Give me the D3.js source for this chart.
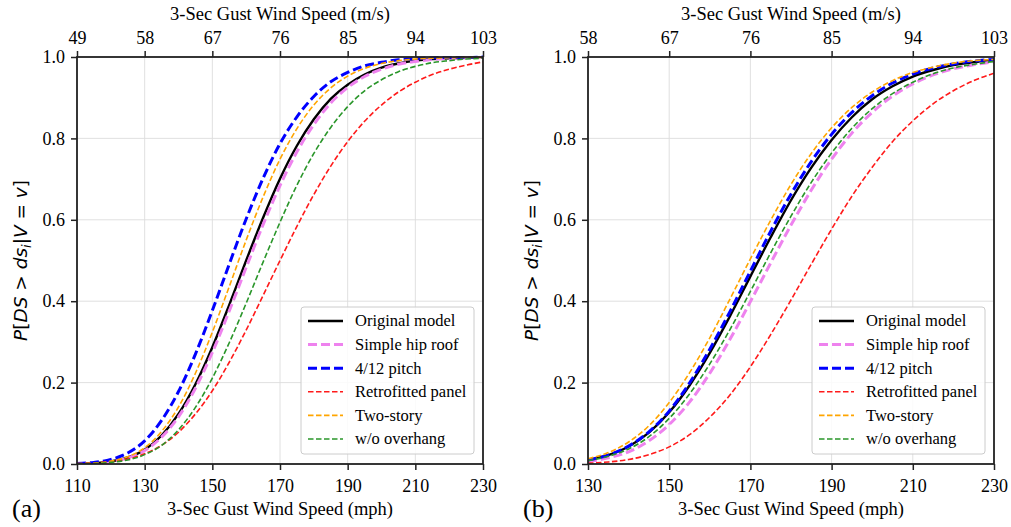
<!DOCTYPE html>
<html>
<head>
<meta charset="utf-8">
<script src="https://cdn.jsdelivr.net/npm/d3@7"></script>
<style>
  body { margin: 0; background: #fff; }
  svg { display: block; }
  .tick text { font-family: "Liberation Serif", "Times New Roman", serif; font-size: 18px; fill: #000; }
</style>
</head>
<body>
<svg id="chart" width="1011" height="527"></svg>
<script>
// wind speeds (mph) where curves were read
const mphA = [110,115,120,125,130,135,140,145,150,155,160,165,170,175,180,185,190,195,200,205,210,215,220,225,230]
const mphB = [130,135,140,145,150,155,160,165,170,175,180,185,190,195,200,205,210,215,220,225,230]

// tick labels
const ticksA = [110,130,150,170,190,210,230]
const msA = [49,58,67,76,85,94,103]
const ticksB = [130,150,170,190,210,230]
const msB = [58,67,76,85,94,103]
const yTicks = [0,0.2,0.4,0.6,0.8,1.0]

// panel (a) fragility values
const origA  = [0.001,0.002,0.006,0.016,0.035,0.070,0.123,0.196,0.287,0.391,0.500,0.605,0.701,0.782,0.847,0.897,0.932,0.957,0.974,0.984,0.991,0.995,0.997,0.998,0.999]
const hipA   = [0.0005,0.002,0.006,0.015,0.033,0.066,0.116,0.186,0.274,0.376,0.483,0.588,0.684,0.767,0.834,0.887,0.925,0.952,0.970,0.982,0.989,0.994,0.996,0.998,0.999]
const pitchA = [0.001,0.004,0.011,0.027,0.057,0.107,0.178,0.270,0.377,0.491,0.602,0.702,0.787,0.853,0.903,0.939,0.962,0.978,0.987,0.993,0.996,0.998,0.999,0.999,1.000]
const retroA = [0.001,0.002,0.006,0.012,0.025,0.046,0.078,0.123,0.180,0.250,0.329,0.414,0.500,0.584,0.662,0.732,0.792,0.842,0.882,0.914,0.938,0.957,0.970,0.980,0.988]
const twoA   = [0.001,0.002,0.007,0.018,0.040,0.080,0.140,0.223,0.324,0.436,0.550,0.656,0.749,0.824,0.882,0.924,0.953,0.972,0.984,0.991,0.995,0.997,0.998,0.999,0.999]
const overA  = [0.000,0.001,0.004,0.010,0.023,0.046,0.084,0.139,0.211,0.298,0.395,0.496,0.594,0.685,0.763,0.827,0.878,0.917,0.944,0.964,0.977,0.986,0.991,0.995,0.997]

// panel (b) fragility values
const origB  = [0.010,0.022,0.043,0.077,0.127,0.193,0.273,0.364,0.461,0.557,0.648,0.728,0.796,0.852,0.896,0.928,0.952,0.968,0.980,0.987,0.992]
const hipB   = [0.006,0.015,0.030,0.057,0.097,0.152,0.223,0.307,0.399,0.494,0.587,0.673,0.749,0.813,0.864,0.904,0.934,0.956,0.971,0.981,0.988]
const pitchB = [0.010,0.022,0.044,0.079,0.130,0.199,0.282,0.375,0.474,0.572,0.663,0.743,0.810,0.864,0.905,0.936,0.958,0.973,0.983,0.990,0.994]
const retroB = [0.002,0.005,0.011,0.023,0.042,0.072,0.115,0.170,0.239,0.318,0.403,0.491,0.577,0.658,0.729,0.792,0.843,0.885,0.917,0.942,0.960]
const twoB   = [0.013,0.028,0.054,0.094,0.151,0.224,0.310,0.406,0.504,0.599,0.687,0.763,0.826,0.876,0.914,0.942,0.962,0.975,0.985,0.991,0.994]
const overB  = [0.008,0.019,0.037,0.067,0.112,0.172,0.246,0.331,0.424,0.519,0.609,0.692,0.764,0.825,0.873,0.910,0.938,0.959,0.973,0.982,0.989]

const names = ['Original model','Simple hip roof','4/12 pitch','Retrofitted panel','Two-story','w/o overhang']

// line styles, same order as names
const styles = [
    {color: '#000000', width: 2.4, dash: null},
    {color: '#ee82ee', width: 3, dash: '9,4'},
    {color: '#0000ff', width: 3, dash: '9,4'},
    {color: '#ff1a1a', width: 1.6, dash: '5.5,2.5'},
    {color: '#ffa500', width: 1.6, dash: '5.5,2.5'},
    {color: '#2a962a', width: 1.6, dash: '5.5,2.5'}
]

const svg = d3.select('#chart')
const serif = '"Liberation Serif", "Times New Roman", serif'
const yTop = 57, yBottom = 464

function drawPanel(id, left, right, mph, series, ticks, ms, tag) {
    const g = svg.append('g').attr('id', id)

    const x = d3.scaleLinear().domain([ticks[0], ticks[ticks.length - 1]]).range([left, right])
    const y = d3.scaleLinear().domain([0, 1]).range([yBottom, yTop])

    // grid
    g.append('g').selectAll('line.gx').data(ticks).enter().append('line')
        .attr('x1', d => x(d)).attr('x2', d => x(d))
        .attr('y1', yTop).attr('y2', yBottom)
        .attr('stroke', '#dcdcdc').attr('stroke-width', 0.9)
    g.append('g').selectAll('line.gy').data(yTicks).enter().append('line')
        .attr('x1', left).attr('x2', right)
        .attr('y1', d => y(d)).attr('y2', d => y(d))
        .attr('stroke', '#dcdcdc').attr('stroke-width', 0.9)

    // curves
    const clipId = 'clip-' + id
    g.append('clipPath').attr('id', clipId).append('rect')
        .attr('x', left).attr('y', yTop - 2).attr('width', right - left).attr('height', yBottom - yTop + 2)
    const line = d3.line()
        .x((d, i) => x(mph[i]))
        .y(d => y(d))
        .curve(d3.curveMonotoneX)
    g.append('g').attr('clip-path', `url(#${clipId})`)
        .selectAll('path').data(series).enter().append('path')
        .attr('d', d => line(d))
        .attr('fill', 'none')
        .attr('stroke', (d, i) => styles[i].color)
        .attr('stroke-width', (d, i) => styles[i].width)
        .attr('stroke-dasharray', (d, i) => styles[i].dash)

    // axes
    const xaxis = d3.axisBottom(x).tickValues(ticks).tickSize(6).tickSizeOuter(0).tickPadding(5)
        .tickFormat(d3.format('d'))
    const gx = g.append('g').attr('transform', `translate(0, ${yBottom})`).call(xaxis)
    gx.selectAll('text').attr('dy', '0.95em')

    const xtop = d3.axisTop(x).tickValues(ticks).tickSize(6).tickSizeOuter(0).tickPadding(7)
        .tickFormat((d, i) => ms[i])
    g.append('g').attr('transform', `translate(0, ${yTop})`).call(xtop)

    const yaxis = d3.axisLeft(y).tickValues(yTicks).tickSize(6).tickSizeOuter(0).tickPadding(6)
        .tickFormat(d3.format('.1f'))
    g.append('g').attr('transform', `translate(${left}, 0)`).call(yaxis)

    g.selectAll('.domain').remove()
    g.selectAll('.tick line').attr('stroke', '#222').attr('stroke-width', 1.5)

    // frame
    g.append('rect')
        .attr('x', left).attr('y', yTop).attr('width', right - left).attr('height', yBottom - yTop)
        .attr('fill', 'none').attr('stroke', '#222').attr('stroke-width', 1.8)

    // titles
    const cx = (left + right) / 2
    g.append('text').attr('x', cx).attr('y', 20).attr('text-anchor', 'middle')
        .style('font-family', serif).style('font-size', '18.5px')
        .text('3-Sec Gust Wind Speed (m/s)')
    g.append('text').attr('x', cx).attr('y', 515).attr('text-anchor', 'middle')
        .style('font-family', serif).style('font-size', '18.5px')
        .text('3-Sec Gust Wind Speed (mph)')
    g.append('text').attr('x', left - 65).attr('y', 517)
        .style('font-family', serif).style('font-size', '26px')
        .text(tag)

    // y label, math style
    const yl = g.append('text')
        .attr('transform', `translate(${left - 50}, ${(yTop + yBottom) / 2}) rotate(-90)`)
        .attr('text-anchor', 'middle')
        .style('font-family', '"DejaVu Sans", sans-serif').style('font-size', '18.5px')
        .style('font-style', 'italic')
    yl.append('tspan').text('P')
    yl.append('tspan').style('font-style', 'normal').text('[')
    yl.append('tspan').text('DS')
    yl.append('tspan').style('font-style', 'normal').text(' > ')
    yl.append('tspan').text('ds')
    yl.append('tspan').attr('dy', 4).style('font-size', '13px').text('i')
    yl.append('tspan').attr('dy', -4).style('font-style', 'normal').text('|')
    yl.append('tspan').text('V')
    yl.append('tspan').style('font-style', 'normal').text(' = ')
    yl.append('tspan').text('v')
    yl.append('tspan').style('font-style', 'normal').text(']')

    // legend
    const lw = 173, lh = 147
    const lx = right - 9 - lw, ly = yBottom - 10 - lh
    const lg = g.append('g').attr('transform', `translate(${lx}, ${ly})`)
    lg.append('rect').attr('width', lw).attr('height', lh).attr('rx', 3)
        .attr('fill', '#fff').attr('fill-opacity', 0.85)
        .attr('stroke', '#cccccc').attr('stroke-width', 1)
    const rows = lg.selectAll('g.row').data(names).enter().append('g')
        .attr('transform', (d, i) => `translate(0, ${14 + i * 23.6})`)
    rows.append('line')
        .attr('x1', 7).attr('x2', 42).attr('y1', 0).attr('y2', 0)
        .attr('stroke', (d, i) => styles[i].color)
        .attr('stroke-width', (d, i) => styles[i].width)
        .attr('stroke-dasharray', (d, i) => styles[i].dash)
    rows.append('text').attr('x', 54).attr('y', 0).attr('dy', '0.33em')
        .style('font-family', serif).style('font-size', '16.5px')
        .text(d => d)
}

drawPanel('panelA', 77, 483, mphA, [origA, hipA, pitchA, retroA, twoA, overA], ticksA, msA, '(a)')
drawPanel('panelB', 588, 994, mphB, [origB, hipB, pitchB, retroB, twoB, overB], ticksB, msB, '(b)')
</script>
</body>
</html>
